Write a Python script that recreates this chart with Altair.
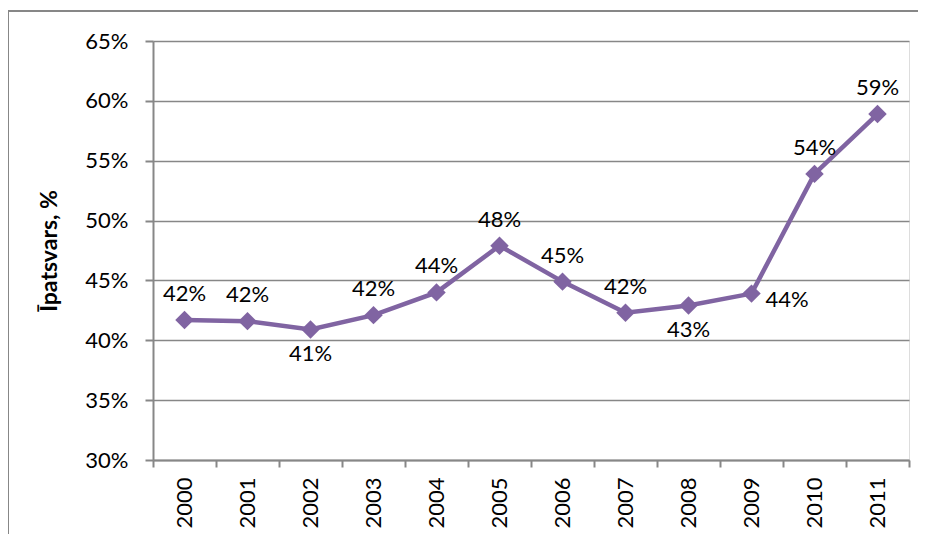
import altair as alt
import pandas as pd

years = ["2000", "2001", "2002", "2003", "2004", "2005",
         "2006", "2007", "2008", "2009", "2010", "2011"]
shares = [0.417, 0.416, 0.409, 0.421, 0.440, 0.479,
          0.449, 0.423, 0.429, 0.439, 0.539, 0.589]
y_ticks = [0.30, 0.35, 0.40, 0.45, 0.50, 0.55, 0.60, 0.65]
labels_below = ["2002", "2008"]
labels_right = ["2009"]

df = pd.DataFrame({"year": years, "share": shares})

FONT = "Lato"
PURPLE = "#8064A2"
GRAY = "#878787"
FS = 22

x_enc = alt.X(
    "year:N",
    bandPosition=0.5,
    scale=alt.Scale(type="band", paddingInner=0, paddingOuter=0),
    axis=alt.Axis(
        title=None, labelAngle=-90, tickBand="extent", grid=False,
        labelFont=FONT, labelFontSize=FS, labelColor="#000000",
        labelPadding=10, tickSize=7, tickColor=GRAY, tickWidth=2,
        domainColor=GRAY, domainWidth=2,
    ),
)
y_enc = alt.Y(
    "share:Q",
    scale=alt.Scale(domain=[0.30, 0.65], nice=False, zero=False),
    axis=alt.Axis(
        title="Īpatsvars, %", values=y_ticks, format=".0%",
        labelFont=FONT, labelFontSize=FS, labelColor="#000000", labelPadding=17,
        tickSize=8, tickColor=GRAY, tickWidth=2,
        domainColor=GRAY, domainWidth=2,
        gridColor=GRAY, gridWidth=1.5,
        titleFont=FONT, titleFontSize=23, titleFontWeight="bold",
        titleColor="#000000", titlePadding=23,
    ),
)

base = alt.Chart(df).encode(x=x_enc, y=y_enc)

line = base.mark_line(color=PURPLE, strokeWidth=4.5)
points = base.mark_point(shape="diamond", filled=True, size=340,
                         color=PURPLE, opacity=1)

txt_common = dict(font=FONT, fontSize=FS, color="#000000")
text_val = alt.Text("share:Q", format=".0%")
above = base.transform_filter(
    ~alt.FieldOneOfPredicate(field="year", oneOf=labels_below + labels_right)
).mark_text(dy=-26, **txt_common).encode(text=text_val)
below = base.transform_filter(
    alt.FieldOneOfPredicate(field="year", oneOf=labels_below)
).mark_text(dy=24, **txt_common).encode(text=text_val)
right = base.transform_filter(
    alt.FieldOneOfPredicate(field="year", oneOf=labels_right)
).mark_text(dx=14, dy=6, align="left", **txt_common).encode(text=text_val)

frame = alt.Chart(alt.Data(values=[{}])).mark_rect(
    fill=None, stroke=GRAY, strokeWidth=2
).encode(
    x=alt.value(-145), x2=alt.value(790),
    y=alt.value(-30), y2=alt.value(520),
)

chart = alt.layer(frame, line, points, above, below, right).properties(
    width=756, height=419,
    autosize=alt.AutoSizeParams(type="none"),
    padding={"left": 145, "top": 33, "right": 9, "bottom": 74},
).configure_view(stroke=None).configure(background="#ffffff")

chart.save("out.html", embed_options={"renderer": "svg", "actions": False})
